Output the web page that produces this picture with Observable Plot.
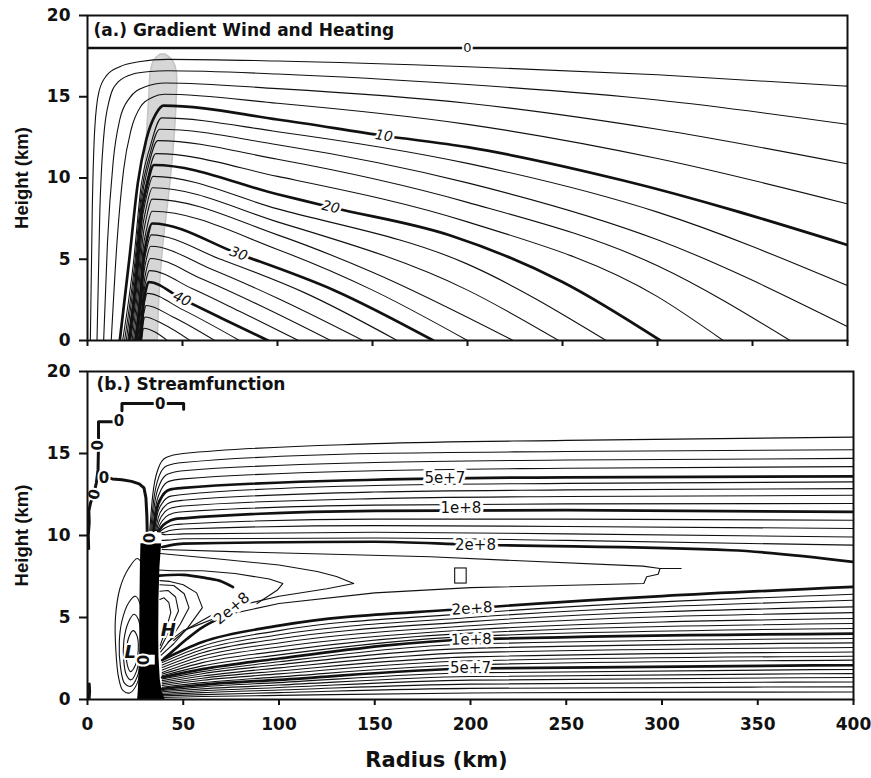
<!DOCTYPE html>
<html><head><meta charset="utf-8">
<script src="https://cdn.jsdelivr.net/npm/d3@7"></script>
<script src="https://cdn.jsdelivr.net/npm/@observablehq/plot@0.6"></script>
<style>body{margin:0;background:#fff}#chart svg{display:block}</style>
</head><body><div id="chart"></div>
<script>
// ---------------- shared ticks ----------------
const xTicks = [0, 50, 100, 150, 200, 250, 300, 350, 400];
const yTicks = [0, 5, 10, 15, 20];

// ---------------- panel (a): gradient wind (m/s), [radius km, height km] ----------------
const windLevels = [2,4,6,8,10,12,14,16,18,20,22,24,26,28,30,32,34,36,38,40,42,44,46,48];
const windLines = [
  [[1.5,0],[2.5,8],[3.8,13],[6,15.3],[10,16.3],[17,16.85],[27,17.15],[42,17.3],[100,17.2],[200,16.85],[300,16.35],[400,15.65]],
  [[5,0],[6.5,8],[8.5,12.5],[11.5,14.8],[16,15.9],[24,16.4],[33,16.55],[42,16.6],[100,16.4],[200,15.75],[300,14.8],[400,13.3]],
  [[8.5,0],[10.5,6],[13.5,11],[17,13.6],[22,14.9],[30,15.6],[41,15.85],[100,15.5],[200,14.6],[300,13.0],[400,10.87]],
  [[12.5,0],[15.5,6],[19,10.5],[23,13],[28,14.4],[34,14.95],[40.5,15.15],[100,14.6],[200,13.3],[300,11.2],[400,8.41]],
  [[17,0],[22,5],[26.5,9.7],[31,12.4],[36,13.95],[40,14.46],[100,13.6],[156,12.6],[200,11.9],[282,9.85],[400,5.88]],
  [[18.5,0],[24.2,4.8],[28.3,9.6],[32.9,11.9],[39,13.7],[100,12.85],[200,10.9],[300,7.9],[400,3.38]],
  [[19.5,0],[24.7,4.55],[28.4,9.1],[32.5,11.3],[38,13.0],[100,12.05],[200,9.7],[300,6.2],[400,0.86]],
  [[20.4,0],[25,4.3],[28.4,8.6],[32,10.7],[37,12.3],[100,11.15],[200,8.5],[300,4.6],[369.8,0]],
  [[21.2,0],[25.3,4.0],[28.3,8.05],[31.6,10.0],[36,11.5],[100,10.1],[200,7.3],[300,2.7],[334.6,0]],
  [[22,0],[25.6,3.8],[28.2,7.6],[31.1,9.4],[35,10.8],[100,9.0],[128,8.2],[191,6.46],[250,3.6],[301.5,0]],
  [[22.8,0],[26.1,3.5],[28.4,7.1],[31,8.8],[34.5,10.1],[100,8.1],[200,4.7],[273,0]],
  [[23.5,0],[26.5,3.3],[28.6,6.6],[31,8.2],[34.2,9.4],[100,7.3],[200,3.1],[248,0]],
  [[24.2,0],[26.9,3.0],[28.9,6.1],[31.1,7.6],[34,8.7],[100,6.5],[150,4.2],[224,0]],
  [[24.8,0],[27.4,2.8],[29.2,5.6],[31.2,6.9],[34,7.95],[100,5.6],[150,3.1],[200,0]],
  [[25.4,0],[27.8,2.5],[29.5,5.0],[31.4,6.3],[34,7.2],[79.5,5.33],[130,3.08],[182,0]],
  [[25.9,0],[28,2.3],[29.5,4.55],[31.2,5.65],[33.5,6.5],[70,5.0],[115,2.9],[163,0]],
  [[26.3,0],[28.2,2.0],[29.6,4.1],[31.1,5.05],[33.2,5.8],[65,4.4],[100,2.6],[145,0]],
  [[26.7,0],[28.5,1.8],[29.7,3.5],[31.1,4.4],[33,5.05],[60,3.8],[90,2.2],[128,0]],
  [[27.1,0],[28.6,1.5],[29.7,3.0],[30.9,3.75],[32.6,4.3],[55,3.2],[80,1.8],[111,0]],
  [[27.5,0],[28.8,1.25],[29.7,2.5],[30.7,3.1],[32.1,3.6],[49.7,2.56],[70,1.4],[95,0]],
  [[27.8,0],[28.8,1.0],[29.5,2.0],[30.3,2.5],[31.4,2.9],[50,1.9],[80,0]],
  [[28.1,0],[28.9,0.75],[29.4,1.5],[30.0,1.87],[30.8,2.15],[45,1.45],[67,0]],
  [[28.3,0],[28.8,0.5],[29.2,1.0],[29.6,1.26],[30.2,1.45],[40,1.0],[54,0]],
  [[28.5,0],[29,0.5],[29.6,0.75],[35,0.55],[42,0]]
];
const windLabelText = ["10", "20", "30", "40"];
const windLabelR = [156, 128, 79.5, 49.7];
const windLabelZ = [12.6, 8.2, 5.33, 2.56];
const windLabelAngle = [8, 13, 20, 25];
const topZeroZ = [18];
const topZeroLabelR = [200];
// heating (shaded band)
const heatZ = [0, 3, 6, 9, 12, 15, 16.5, 17.2, 17.6];
const heatLeft = [26.5, 27.3, 28.3, 29.7, 31, 32.5, 33.3, 35, 38.5];
const heatRight = [37, 38, 40, 43, 45.5, 47, 47, 45, 41];

// ---------------- panel (b): streamfunction ----------------
const upperLines = [
  [[32.5,10.3],[34,12.4],[37,14.1],[41,14.75],[50,15.0],[150,15.6],[250,15.8],[400,16.0]],
  [[33,10.3],[34.5,12.1],[37.5,13.65],[41.5,14.25],[50,14.45],[150,15.0],[250,15.12],[400,15.23]],
  [[33.5,10.3],[35,11.9],[38,13.2],[42,13.75],[50,13.95],[150,14.45],[250,14.6],[400,14.7]],
  [[34,10.3],[35.5,11.7],[38.5,12.8],[42.5,13.3],[50,13.45],[150,13.95],[250,14.1],[400,14.2]],
  [[34.5,10.3],[36,11.5],[39,12.4],[43,12.8],[50,12.9],[150,13.4],[250,13.55],[400,13.6]],
  [[35,10.3],[36.5,11.3],[39.5,12.05],[43.5,12.4],[50,12.5],[150,13.05],[250,13.18],[400,13.27]],
  [[35.5,10.3],[37,11.1],[40,11.75],[44,12.05],[50,12.15],[150,12.65],[250,12.78],[400,12.86]],
  [[36,10.3],[37.5,10.9],[40.5,11.45],[44.5,11.7],[50,11.8],[150,12.25],[250,12.38],[400,12.45]],
  [[36.5,10.3],[38,10.7],[41,11.15],[45,11.37],[50,11.45],[150,11.85],[250,11.93],[400,11.95]],
  [[37,10.25],[38.5,10.5],[41.5,10.8],[45.5,11.0],[50,11.05],[150,11.5],[250,11.55],[400,11.44]],
  [[37.5,10.2],[39,10.35],[42,10.55],[46,10.67],[50,10.7],[150,11.0],[250,11.0],[400,10.93]],
  [[38,10.15],[40,10.2],[43,10.3],[50,10.4],[150,10.6],[250,10.55],[400,10.43]],
  [[38.5,10.1],[41,10.05],[50,10.1],[150,10.2],[250,10.1],[400,9.91]],
  [[38.8,9.7],[42,9.72],[50,9.8],[150,9.85],[250,9.7],[400,9.41]],
  [[39,9.3],[43,9.4],[50,9.5],[150,9.62],[200,9.45],[336,9.1],[400,8.39]]
];
const upperThick = [0,0,0,0,1,0,0,0,0,1,0,0,0,0,1];
const fanR = [39, 60, 100, 200, 400];
const fanZ = [
  [2.4,3.5,4.5,5.55,6.87],[2.25,3.25,4.2,5.25,6.42],[2.1,3.05,3.95,5.0,6.05],[1.95,2.85,3.7,4.75,5.65],
  [1.8,2.65,3.45,4.5,5.3],[1.65,2.45,3.2,4.25,4.94],[1.55,2.25,2.95,4.05,4.63],[1.45,2.05,2.72,3.85,4.33],
  [1.35,1.85,2.5,3.66,4.02],[1.25,1.7,2.3,3.38,3.72],[1.15,1.57,2.12,3.12,3.45],[1.05,1.43,1.93,2.86,3.17],
  [0.95,1.3,1.74,2.6,2.9],[0.85,1.17,1.56,2.36,2.64],[0.75,1.03,1.38,2.12,2.4],[0.65,0.9,1.2,1.89,2.09],
  [0.55,0.77,1.03,1.63,1.83],[0.47,0.65,0.88,1.4,1.58],[0.38,0.53,0.73,1.18,1.34],[0.3,0.42,0.58,0.94,1.07],
  [0.22,0.3,0.42,0.68,0.77],[0.12,0.18,0.25,0.4,0.46]
];
const fanThick = [1,0,0,0,0,0,0,0,1,0,0,0,0,0,0,1,0,0,0,0,0,0];
const vLines = [
  [[37.5,7.9],[44,7.85],[60,7.85],[77,7.68],[95,7.35],[102,7.07],[99,6.66],[88.5,5.85]],
  [[38,8.9],[70,8.55],[100,8.2],[120,7.8],[130,7.5],[139,7.07],[125,6.75],[100,6.3],[80,5.75],[65,5.15],[52,4.3],[45,3.6]],
  [[39,9.15],[80,9.0],[179,8.7],[290,8.13],[299,7.99],[310,7.99]],
  [[299,7.99],[298,7.64],[292,7.48],[290.5,7.07],[200,6.82],[150,6.5],[100,5.85],[70,5.1],[50,4.2],[42,3.5]]
];
const vBoxR = [192, 198];
const vBoxZ = [7.07, 7.99];
const loopTop = [[37.5,7.55],[50,7.6],[62,7.4],[70,7.2],[76,6.85]];
const loopBottom = [[68,4.9],[60,4.4],[52,3.7],[45,3.0],[40,2.5]];
const hArcs = [
  [[38,3.3],[39.8,3.9],[41.8,4.6],[43.5,5.3],[42.5,5.9],[40,6.2],[37.8,6.1]],
  [[38,3.1],[41,3.8],[44.5,4.6],[47.5,5.4],[46,6.25],[42,6.65],[37.8,6.6]],
  [[38.2,2.9],[43,3.6],[48.5,4.6],[53,5.6],[50.5,6.45],[45,6.95],[37.8,7.0]],
  [[38.5,2.7],[45,3.4],[52.5,4.4],[60,5.6],[57,6.5],[50,7.0],[43,7.2],[37.8,7.25]]
];
const lEllipses = [
  [[26,8.6],[21.5,8.0],[17,6.8],[14.6,5.0],[14.8,3.0],[16.3,1.3],[18.5,0.55],[22,0.4],[26,1.0],[29,3],[29.5,6],[28.5,8.2]],
  [[25,6.3],[21.5,5.9],[18,4.8],[16.6,3.5],[17.2,2.0],[19.3,1.0],[22.5,0.8],[26,1.4],[28.6,3.5],[28,5.6]],
  [[24.3,5.2],[21.3,4.7],[19,3.6],[18.9,2.4],[20.3,1.5],[22.8,1.2],[25.5,1.7],[27.8,3.3],[26.8,4.8]],
  [[23.8,4.2],[21.6,3.8],[20.4,3.0],[20.8,2.1],[22.5,1.7],[25,2.1],[26.5,3.0],[25.8,3.9]]
];
const colZ = [0, 0.5, 1.2, 2.0, 2.6, 4, 6, 8, 9.5];
const colLeft = [26.2, 26.5, 26.8, 27.0, 27.3, 27.3, 27.4, 27.6, 27.9];
const colRight = [40.5, 39, 38, 37.6, 37.3, 37.2, 37.3, 37.8, 38.7];
const boxR1 = [29.3, 38.9], boxZ1 = [9.5, 10.15];
const boxR2 = [26.6, 35.4], boxZ2 = [2.1, 2.7];
const zeroLines = [
  [[0.6,9.2],[0.4,10.0],[0.9,10.8],[0.7,11.5],[1.6,12.0],[3.1,12.45],[4.6,13.2],[5.5,14.0],[5.75,15.5],[5.75,16.93],[13.8,16.93]],
  [[18,17.6],[18,18.05],[50.2,18.05],[50.2,17.7]],
  [[9.8,13.55],[13,13.45],[18,13.4],[23,13.3],[27,13.15],[29.5,12.9],[30.5,12.3],[31,11.2],[31.2,10.2]],
  [[0.8,0],[1.1,0.5],[0.9,0.95]]
];
const zeroLabelR = [3.6, 5.75, 16.4, 38, 8.6, 32.5, 29.5];
const zeroLabelZ = [12.5, 15.5, 16.95, 18.0, 13.5, 9.85, 2.4];
const zeroLabelAngle = [-75, -90, 0, 0, 0, -90, -90];
const psiLabelText = ["5e+7", "1e+8", "2e+8", "2e+8", "1e+8", "5e+7", "2e+8"];
const psiLabelR = [186.6, 195, 202.6, 200.8, 200.4, 200, 75.4];
const psiLabelZ = [13.47, 11.65, 9.4, 5.55, 3.66, 1.89, 5.55];
const psiLabelAngle = [0, 0, 0, -4, -1, 0, -40];
const extremaText = ["H", "L"];
const extremaR = [42.2, 22.3];
const extremaZ = [4.2, 2.9];

// ---------------- helpers ----------------
const rows = (lines, extra = () => ({})) =>
  lines.flatMap((pts, i) => pts.map(([r, z]) => ({id: i, r, z, ...extra(i)})));
const FONT = "DejaVu Sans";
const INK = "#111";
const THIN = 1.1, THICK = 2.7;

function axes(showXLabels) {
  return [
    Plot.frame({stroke: INK, strokeWidth: 2}),
    Plot.axisY({ticks: yTicks, tickSize: 8, tickPadding: 9, fontSize: 17, fontWeight: "bold", strokeWidth: 2, label: null}),
    Plot.axisX({ticks: xTicks, tickSize: 6, tickPadding: 12, fontSize: 17, fontWeight: "bold", strokeWidth: 2, label: null,
      tickFormat: showXLabels ? (d => String(d)) : (() => "")})
  ];
}
const yLabel = () => Plot.text(["Height (km)"], {text: d => d, frameAnchor: "left", dx: -65, rotate: -90,
  textAnchor: "middle", lineAnchor: "middle", fontSize: 18.5, fontWeight: "bold", fontFamily: "Liberation Sans", fill: INK});

// ---------------- panel (a) ----------------
const windData = rows(windLines, i => ({level: windLevels[i]}));
const heat = heatZ.map((z, i) => ({z, left: heatLeft[i], right: heatRight[i]}));
const windLabels = windLabelText.map((t, i) => ({t, r: windLabelR[i], z: windLabelZ[i], a: windLabelAngle[i]}));

const topPlot = Plot.plot({
  width: 871, height: 355, marginTop: 15, marginBottom: 15, marginLeft: 87, marginRight: 24,
  x: {domain: [0, 400]}, y: {domain: [0, 20]},
  style: {fontFamily: FONT, background: "white", color: INK},
  marks: [
    Plot.areaX(heat, {y: "z", x1: "left", x2: "right", fill: "#d6d6d6", stroke: "#c4c4c4", strokeWidth: 1.5, curve: "catmull-rom"}),
    Plot.ruleY(topZeroZ, {stroke: INK, strokeWidth: THICK}),
    Plot.line(windData.filter(d => d.level % 10 !== 0), {x: "r", y: "z", z: "id", stroke: INK, strokeWidth: THIN, curve: "monotone-x", clip: true}),
    Plot.line(windData.filter(d => d.level % 10 === 0), {x: "r", y: "z", z: "id", stroke: INK, strokeWidth: THICK, curve: "monotone-x", clip: true}),
    Plot.text(windLabels, {x: "r", y: "z", text: "t", rotate: "a", fontSize: 14, fontStyle: "italic", fill: INK, stroke: "white", strokeWidth: 5}),
    Plot.text(topZeroLabelR, {x: d => d, y: () => topZeroZ[0], text: () => "0", fontSize: 13, fill: INK, stroke: "white", strokeWidth: 4}),
    Plot.text(["(a.) Gradient Wind and Heating"], {text: d => d, frameAnchor: "top-left", dx: 6, dy: 15, textAnchor: "start", lineAnchor: "middle", fontSize: 17, fontWeight: "bold", fill: INK}),
    yLabel(),
    ...axes(false)
  ]
});

// ---------------- panel (b) ----------------
const upperData = rows(upperLines, i => ({thick: upperThick[i]}));
const fanData = fanZ.flatMap((zs, i) => zs.map((z, j) => ({id: i, r: fanR[j], z, thick: fanThick[i]})));
const col = colZ.map((z, i) => ({z, left: colLeft[i], right: colRight[i]}));
const boxes = [{x1: boxR1[0], x2: boxR1[1], y1: boxZ1[0], y2: boxZ1[1]}, {x1: boxR2[0], x2: boxR2[1], y1: boxZ2[0], y2: boxZ2[1]}];
const zeroLabels = zeroLabelR.map((r, i) => ({r, z: zeroLabelZ[i], a: zeroLabelAngle[i]}));
const psiLabels = psiLabelText.map((t, i) => ({t, r: psiLabelR[i], z: psiLabelZ[i], a: psiLabelAngle[i]}));
const extrema = extremaText.map((t, i) => ({t, r: extremaR[i], z: extremaZ[i]}));

const bottomPlot = Plot.plot({
  width: 871, height: 423, marginTop: 16, marginBottom: 79, marginLeft: 87, marginRight: 18,
  x: {domain: [0, 400]}, y: {domain: [0, 20]},
  style: {fontFamily: FONT, background: "white", color: INK},
  marks: [
    Plot.line(rows(lEllipses), {x: "r", y: "z", z: "id", stroke: INK, strokeWidth: THIN, curve: "catmull-rom-closed", clip: true}),
    Plot.line(rows(hArcs), {x: "r", y: "z", z: "id", stroke: INK, strokeWidth: THIN, curve: "linear", clip: true}),
    Plot.line(rows(vLines), {x: "r", y: "z", z: "id", stroke: INK, strokeWidth: THIN, curve: "linear", clip: true}),
    Plot.rect([{x1: vBoxR[0], x2: vBoxR[1], y1: vBoxZ[0], y2: vBoxZ[1]}], {x1: "x1", x2: "x2", y1: "y1", y2: "y2", fill: "none", stroke: INK, strokeWidth: THIN}),
    Plot.line(rows([loopTop, loopBottom]), {x: "r", y: "z", z: "id", stroke: INK, strokeWidth: THICK, curve: "catmull-rom", clip: true}),
    Plot.line(fanData.filter(d => !d.thick), {x: "r", y: "z", z: "id", stroke: INK, strokeWidth: THIN, curve: "monotone-x", clip: true}),
    Plot.line(fanData.filter(d => d.thick), {x: "r", y: "z", z: "id", stroke: INK, strokeWidth: THICK, curve: "monotone-x", clip: true}),
    Plot.line(upperData.filter(d => !d.thick), {x: "r", y: "z", z: "id", stroke: INK, strokeWidth: THIN, curve: "monotone-x", clip: true}),
    Plot.line(upperData.filter(d => d.thick), {x: "r", y: "z", z: "id", stroke: INK, strokeWidth: THICK, curve: "monotone-x", clip: true}),
    Plot.areaX(col, {y: "z", x1: "left", x2: "right", fill: "black", curve: "linear"}),
    Plot.rect(boxes, {x1: "x1", x2: "x2", y1: "y1", y2: "y2", fill: "white"}),
    Plot.line(rows(zeroLines), {x: "r", y: "z", z: "id", stroke: INK, strokeWidth: 3, curve: "linear", clip: true}),
    Plot.text(zeroLabels, {x: "r", y: "z", rotate: "a", text: () => "0", fontSize: 15, fontWeight: "bold", fill: INK, stroke: "white", strokeWidth: 4}),
    Plot.text(psiLabels, {x: "r", y: "z", rotate: "a", text: "t", fontSize: 15, fill: INK, stroke: "white", strokeWidth: 6}),
    Plot.text(extrema, {x: "r", y: "z", text: "t", fontSize: 18, fontWeight: "bold", fontStyle: "italic", fill: INK, stroke: "white", strokeWidth: 4}),
    Plot.text(["(b.) Streamfunction"], {text: d => d, frameAnchor: "top-left", dx: 9, dy: 13, textAnchor: "start", lineAnchor: "middle", fontSize: 17, fontWeight: "bold", fill: INK}),
    yLabel(),
    Plot.text(["Radius (km)"], {text: d => d, frameAnchor: "bottom", dx: -34, dy: 67, textAnchor: "middle", fontSize: 21, fontWeight: "bold", fill: INK}),
    ...axes(true)
  ]
});

document.getElementById("chart").append(topPlot, bottomPlot);
</script></body></html>
